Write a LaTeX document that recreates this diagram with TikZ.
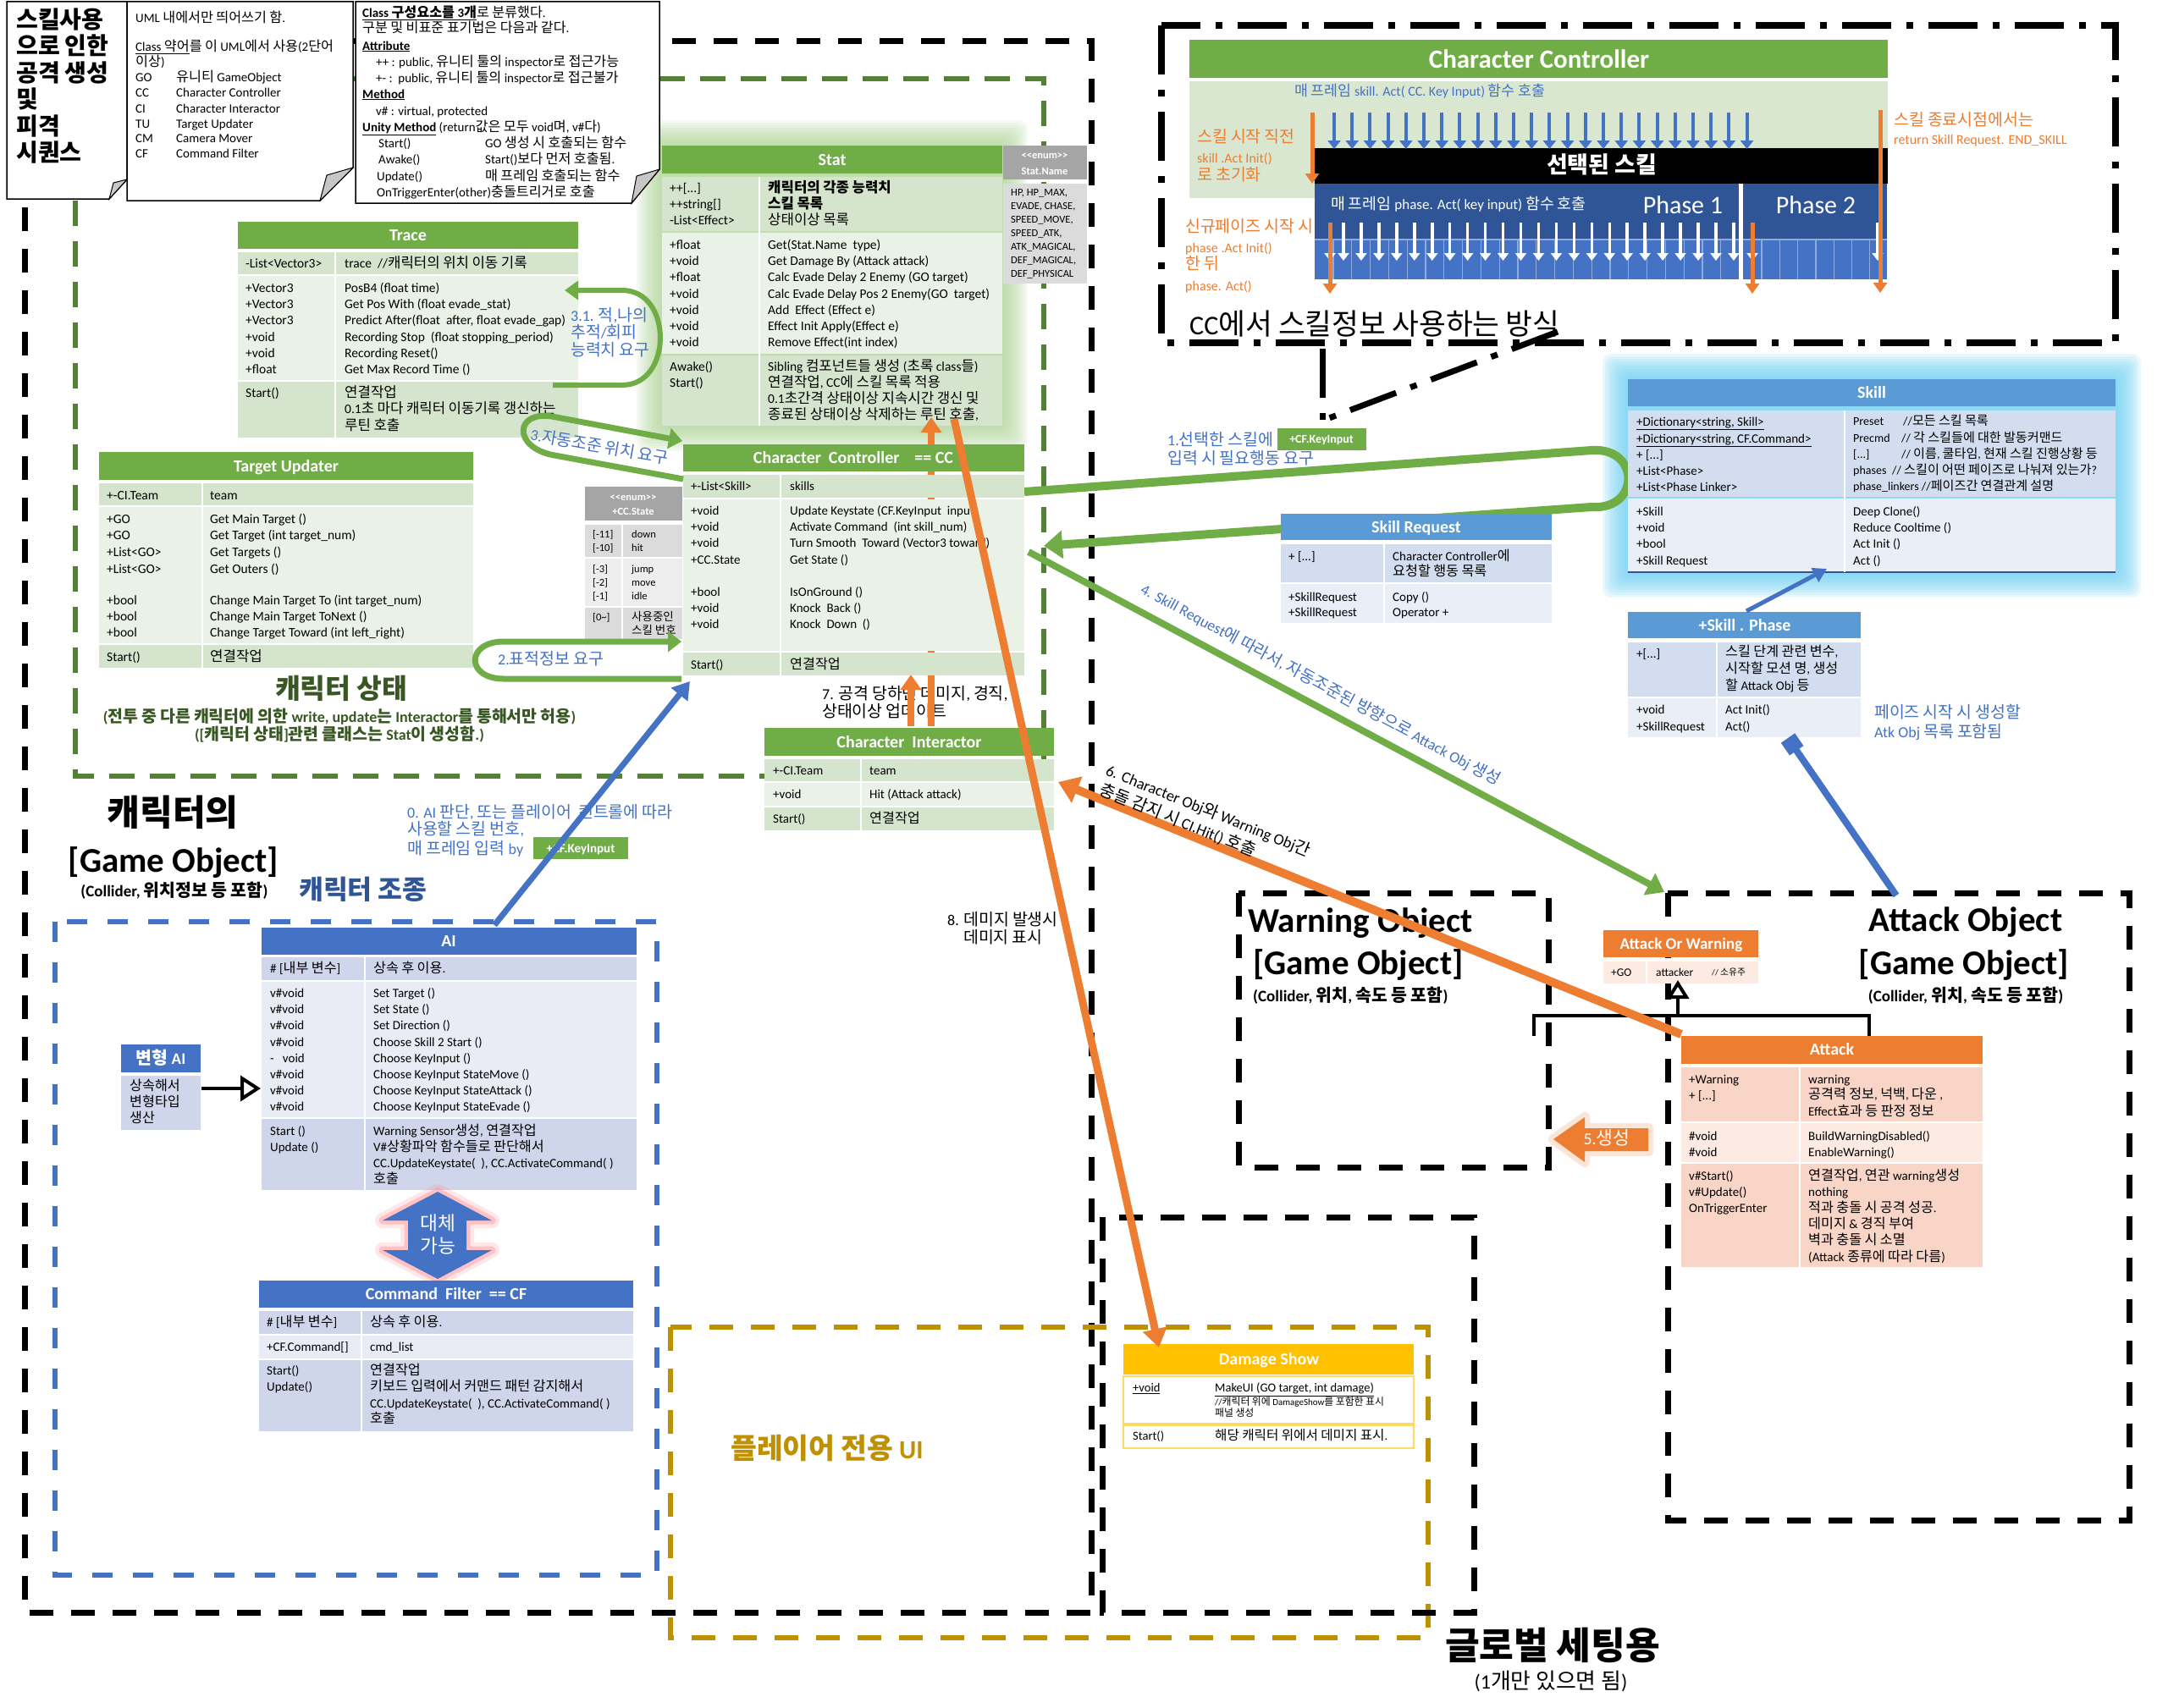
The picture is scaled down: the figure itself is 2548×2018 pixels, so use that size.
\documentclass[tikz,border=0pt]{standalone}
\usepackage{fontspec}
\setmainfont{Carlito}
\newfontfamily\krfont{Noto Sans CJK KR}[Scale=1.08]
\usetikzlibrary{arrows.meta}

% Hangul syllables switch to the Korean face on their own
\XeTeXinterchartokenstate=1
\chardef\krclass=7
\newcount\hgcode
\hgcode="AC00
\loop
  \XeTeXcharclass\hgcode=\krclass
  \ifnum\hgcode<"D7A3 \advance\hgcode by 1
\repeat
\XeTeXinterchartoks 0 \krclass = {\begingroup\krfont}
\XeTeXinterchartoks 4095 \krclass = {\begingroup\krfont}
\XeTeXinterchartoks \krclass 0 = {\endgroup}
\XeTeXinterchartoks \krclass 4095 = {\endgroup}

\definecolor{gH}{HTML}{70AD47}
\definecolor{gA}{HTML}{D5E4CD}
\definecolor{gB}{HTML}{EAF1E6}
\definecolor{bH}{HTML}{5B9BD5}
\definecolor{bA}{HTML}{D2DEEF}
\definecolor{bB}{HTML}{EAEFF7}
\definecolor{aH}{HTML}{4472C4}
\definecolor{aA}{HTML}{CFD5EA}
\definecolor{aB}{HTML}{E9EBF5}
\definecolor{enH}{HTML}{A5A5A5}
\definecolor{enA}{HTML}{DBDBDB}
\definecolor{enB}{HTML}{EDEDED}
\definecolor{orng}{HTML}{ED7D31}
\definecolor{oA}{HTML}{F8D5C6}
\definecolor{oB}{HTML}{FCEAE3}
\definecolor{ylw}{HTML}{FFC000}
\definecolor{ylwL}{HTML}{FFD966}
\definecolor{gold}{HTML}{BF9000}
\definecolor{dgreen}{HTML}{548235}
\definecolor{txtblue}{HTML}{4472C4}
\definecolor{dblue}{HTML}{2F5597}
\definecolor{stgreen}{HTML}{385723}
\definecolor{lgpanel}{HTML}{D9E7D0}
\definecolor{cellline}{HTML}{8FAADC}
\definecolor{glowg}{HTML}{A9D18E}
\definecolor{glowc}{HTML}{6FD3F5}
\definecolor{glowr}{HTML}{FF7C80}

\tikzset{
  blkdash/.style={draw=black,line width=7pt,dash pattern=on 28pt off 21pt},
  grndash/.style={draw=dgreen,line width=6pt,dash pattern=on 30pt off 18pt},
  bludash/.style={draw=aH,line width=6pt,dash pattern=on 24pt off 24pt},
  glddash/.style={draw=gold,line width=6pt,dash pattern=on 28pt off 21pt},
  dotdash/.style={draw=black,line width=8pt,dash pattern=on 58pt off 18pt on 8pt off 18pt},
  gline/.style={draw=gH},
  oline/.style={draw=orng},
  divw/.style={draw=white,line width=2.5pt},
}

\newcounter{lbl}
% one line of text: [options]{x}{y of line centre}{size}{text}
\newcommand\lb[5][]{\stepcounter{lbl}\node[anchor=base west,inner sep=0pt,font=\fontsize{#4}{#4}\selectfont,#1] (lb\arabic{lbl}) at (#2,{#3+0.34*#4}) {#5};}

\begin{document}
\begin{tikzpicture}[x=1pt,y=-1pt]
\useasboundingbox (0,0) rectangle (2548,2018);
\fill[white] (0,0) rectangle (2548,2018);

% ---------- soft glows
\foreach \g in {1,...,10}{\fill[glowg,opacity=0.11,rounded corners=10pt] ({782-3*\g},{172-3*\g}) rectangle ({1184+3*\g},{503+3*\g});}
\foreach \g in {1,...,10}{\fill[glowc,opacity=0.14,rounded corners=10pt] ({1923-3*\g},{448-3*\g}) rectangle ({2499+3*\g},{676+3*\g});}

% ---------- dashed groupings
\draw[blkdash] (29,49) rectangle (1289,1905);
\draw[grndash] (89,93) rectangle (1233,917);
\draw[bludash] (65,1089) rectangle (776,1861);
\draw[glddash] (792,1568) rectangle (1687,1935);
\draw[blkdash] (1302,1438) rectangle (1741,1905);
\draw[blkdash] (1463,1055) rectangle (1829,1379);
\draw[blkdash] (1970,1055) rectangle (2515,1796);
\draw[dotdash] (1372,30) rectangle (2499,405);

% ---------- loop from CC to Skill and back (runs behind Skill Request)
\coordinate (ccR1) at (1210,581);
\coordinate (skL1) at (1880,532);
\coordinate (skL2) at (1880,599);
\coordinate (ccR2) at (1233,645);
\draw[gline,line width=10pt,-{Triangle[length=22pt,width=32pt]}] (ccR1) -- (skL1) .. controls (1938,528) and (1938,603) .. (skL2) -- (ccR2);

% ---------- Stat
\fill[gH] (782,172) rectangle (1184,205);
\fill[gA] (782,209) rectangle (1184,273);
\fill[gB] (782,275) rectangle (1184,418);
\fill[gA] (782,420) rectangle (1184,503);
\draw[divw] (897,209) -- (897,503);
\lb[anchor=base,text=white]{983}{189}{20}{\bfseries Stat}
\lb{791}{222}{15.5}{++[...]}
\lb{791}{241}{15.5}{++string[]}
\lb{791}{260}{15.5}{-List<Effect>}
\lb{907}{222}{15.5}{\bfseries 캐릭터의 각종 능력치}
\lb{907}{241}{15.5}{\bfseries 스킬 목록}
\lb{907}{260}{15.5}{상태이상 목록}
\lb{791}{289}{15.5}{+float}
\lb{791}{308}{15.5}{+void}
\lb{791}{327}{15.5}{+float}
\lb{791}{347}{15.5}{+void}
\lb{791}{366}{15.5}{+void}
\lb{791}{385}{15.5}{+void}
\lb{791}{404}{15.5}{+void}
\lb{907}{289}{15.5}{Get(Stat.Name\ \ type)}
\lb{907}{308}{15.5}{Get Damage By (Attack attack)}
\lb{907}{327}{15.5}{Calc Evade Delay 2 Enemy (GO target)}
\lb{907}{347}{15.5}{Calc Evade Delay Pos 2 Enemy(GO\ \ target)}
\lb{907}{366}{15.5}{Add\ \ Effect (Effect e)}
\lb{907}{385}{15.5}{Effect Init Apply(Effect e)}
\lb{907}{404}{15.5}{Remove Effect(int index)}
\lb{791}{433}{15.5}{Awake()}
\lb{791}{452}{15.5}{Start()}
\lb{907}{433}{15.5}{Sibling 컴포넌트들 생성 (초록 class들)}
\lb{907}{452}{15.5}{연결작업, CC에 스킬 목록 적용}
\lb{907}{471}{15.5}{0.1초간격 상태이상 지속시간 갱신 및}
\lb{907}{490}{15.5}{종료된 상태이상 삭제하는 루틴 호출,}

% Stat.Name enum
\fill[enH] (1185,172) rectangle (1284,212);
\fill[enA] (1185,217) rectangle (1284,335);
\lb[anchor=base,text=white]{1234}{183}{12.5}{\bfseries <{}<enum>{}>}
\lb[anchor=base,text=white]{1234}{202}{12.5}{\bfseries Stat.Name}
\lb{1194}{227}{12.5}{HP, HP\_MAX,}
\lb{1194}{243}{12.5}{EVADE, CHASE,}
\lb{1194}{259}{12.5}{SPEED\_MOVE,}
\lb{1194}{275}{12.5}{SPEED\_ATK,}
\lb{1194}{291}{12.5}{ATK\_MAGICAL,}
\lb{1194}{307}{12.5}{DEF\_MAGICAL,}
\lb{1194}{323}{12.5}{DEF\_PHYSICAL}

% ---------- label 7 and its two arrows (the longer one passes behind CC)
\lb{971}{820}{18}{7. 공격 당하면 데미지, 경직,}
\lb{971}{841}{18}{상태이상 업데이트}
\coordinate (ciT1) at (1076,858);
\coordinate (ccB1) at (1076,797);
\coordinate (ciT2) at (1100,858);
\coordinate (stB1) at (1100,493);
\draw[oline,line width=8pt,-{Triangle[length=18pt,width=24pt]}] (ciT1) -- (ccB1);
\draw[oline,line width=8pt,-{Triangle[length=18pt,width=24pt]}] (ciT2) -- (stB1);

% ---------- Trace
\fill[gH] (281,262) rectangle (683,294);
\fill[gA] (281,298) rectangle (683,324);
\fill[gB] (281,326) rectangle (683,449);
\fill[gA] (281,451) rectangle (683,517);
\draw[divw] (396,298) -- (396,517);
\lb[anchor=base,text=white]{482}{278}{20}{\bfseries Trace}
\lb{290}{311}{15.5}{-List<Vector3>}
\lb{407}{311}{15.5}{trace\ \ //캐릭터의 위치 이동 기록}
\lb{290}{340}{15.5}{+Vector3}
\lb{290}{359}{15.5}{+Vector3}
\lb{290}{378}{15.5}{+Vector3}
\lb{290}{398}{15.5}{+void}
\lb{290}{417}{15.5}{+void}
\lb{290}{436}{15.5}{+float}
\lb{290}{464}{15.5}{Start()}
\lb{407}{340}{15.5}{PosB4 (float time)}
\lb{407}{359}{15.5}{Get Pos With (float evade\_stat)}
\lb{407}{378}{15.5}{Predict After(float\ \ after, float evade\_gap)}
\lb{407}{398}{15.5}{Recording Stop\ \ (float stopping\_period)}
\lb{407}{417}{15.5}{Recording Reset()}
\lb{407}{436}{15.5}{Get Max Record Time ()}
\lb{407}{464}{15.5}{연결작업}
\lb{407}{483}{15.5}{0.1초 마다 캐릭터 이동기록 갱신하는}
\lb{407}{503}{15.5}{루틴 호출}

% ---------- Target Updater
\fill[gH] (117,534) rectangle (559,567);
\fill[gA] (117,571) rectangle (559,597);
\fill[gB] (117,599) rectangle (559,760);
\fill[gA] (117,762) rectangle (559,789);
\draw[divw] (239,571) -- (239,789);
\lb[anchor=base,text=white]{338}{551}{20}{\bfseries Target Updater}
\lb{126}{585}{15.5}{+-CI.Team}
\lb{126}{613}{15.5}{+GO}
\lb{126}{632}{15.5}{+GO}
\lb{126}{652}{15.5}{+List<GO>}
\lb{126}{672}{15.5}{+List<GO>}
\lb{126}{709}{15.5}{+bool}
\lb{126}{728}{15.5}{+bool}
\lb{126}{747}{15.5}{+bool}
\lb{126}{776}{15.5}{Start()}
\lb{248}{585}{15.5}{team}
\lb{248}{613}{15.5}{Get Main Target ()}
\lb{248}{632}{15.5}{Get Target (int target\_num)}
\lb{248}{652}{15.5}{Get Targets ()}
\lb{248}{672}{15.5}{Get Outers ()}
\lb{248}{709}{15.5}{Change Main Target To (int target\_num)}
\lb{248}{728}{15.5}{Change Main Target ToNext ()}
\lb{248}{747}{15.5}{Change Target Toward (int left\_right)}
\lb{248}{776}{15.5}{연결작업}

% ---------- CC.State enum
\fill[enH] (691,575) rectangle (806,615);
\fill[enA] (691,620) rectangle (806,658);
\fill[enB] (691,660) rectangle (806,716);
\fill[enA] (691,718) rectangle (806,755);
\draw[divw] (735,620) -- (735,755);
\lb[anchor=base,text=white]{748}{587}{12.5}{\bfseries <{}<enum>{}>}
\lb[anchor=base,text=white]{748}{604}{12.5}{\bfseries +CC.State}
\lb{700}{631}{12.5}{[-11]}
\lb{700}{647}{12.5}{[-10]}
\lb{700}{672}{12.5}{[-3]}
\lb{700}{688}{12.5}{[-2]}
\lb{700}{704}{12.5}{[-1]}
\lb{700}{729}{12.5}{[0\textasciitilde]}
\lb{746}{631}{12.5}{down}
\lb{746}{647}{12.5}{hit}
\lb{746}{672}{12.5}{jump}
\lb{746}{688}{12.5}{move}
\lb{746}{704}{12.5}{idle}
\lb{746}{729}{12.5}{사용중인}
\lb{746}{745}{12.5}{스킬 번호}

% ---------- Character Controller
\fill[gH] (807,525) rectangle (1210,557);
\fill[gA] (807,561) rectangle (1210,588);
\fill[gB] (807,590) rectangle (1210,769);
\fill[gA] (807,771) rectangle (1210,798);
\draw[divw] (922,561) -- (922,798);
\lb[anchor=base,text=white]{1008}{541}{20}{\bfseries Character\ \ Controller\hspace{18pt}== CC}
\lb{816}{574}{15}{+-List<Skill>}
\lb{816}{603}{15}{+void}
\lb{816}{622}{15}{+void}
\lb{816}{641}{15}{+void}
\lb{816}{661}{15}{+CC.State}
\lb{816}{699}{15}{+bool}
\lb{816}{718}{15}{+void}
\lb{816}{737}{15}{+void}
\lb{816}{785}{15}{Start()}
\lb{933}{574}{15}{skills}
\lb{933}{603}{15}{Update Keystate (CF.KeyInput\ \ input)}
\lb{933}{622}{15}{Activate Command\ \ (int skill\_num)}
\lb{933}{641}{15}{Turn Smooth\ \ Toward (Vector3 toward)}
\lb{933}{661}{15}{Get State ()}
\lb{933}{699}{15}{IsOnGround ()}
\lb{933}{718}{15}{Knock\ \ Back ()}
\lb{933}{737}{15}{Knock\ \ Down\ \ ()}
\lb{933}{785}{15}{연결작업}

% ---------- Character Interactor
\fill[gH] (903,860) rectangle (1245,893);
\fill[gA] (903,897) rectangle (1245,923);
\fill[gB] (903,925) rectangle (1245,952);
\fill[gA] (903,954) rectangle (1245,981);
\draw[divw] (1017,897) -- (1017,981);
\lb[anchor=base,text=white]{1074}{877}{20}{\bfseries Character\ \ Interactor}
\lb{913}{910}{15}{+-CI.Team}
\lb{913}{938}{15}{+void}
\lb{913}{967}{15}{Start()}
\lb{1027}{910}{15}{team}
\lb{1027}{938}{15}{Hit (Attack attack)}
\lb{1027}{967}{15}{연결작업}

% ---------- request loops among the green classes
\coordinate (trR) at (653,455);
\coordinate (trA) at (667,343);
\draw[gline,line width=6pt,-{Triangle[length=16pt,width=22pt]}] (trR) -- (735,455) .. controls (795,455) and (795,343) .. (735,343) -- (trA);
\lb[text=txtblue]{674}{373}{18}{3.1. 적,나의}
\lb[text=txtblue]{674}{393}{18}{추적/회피}
\lb[text=txtblue]{674}{414}{18}{능력치 요구}

\coordinate (ccL3) at (805,802);
\coordinate (ccL2) at (805,758);
\draw[gline,line width=7pt,-{Triangle[length=16pt,width=24pt]}] (ccL3) -- (595,802) .. controls (550,802) and (550,758) .. (595,758) -- (ccL2);
\lb[text=txtblue]{588}{779}{18}{2.표적정보 요구}

\coordinate (ccL1) at (807,566);
\coordinate (ccH1) at (806,521);
\draw[gline,line width=7pt,-{Triangle[length=16pt,width=24pt]}] (ccL1) -- (655,538) .. controls (605,529) and (608,485) .. (652,492) -- (ccH1);
\lb[text=txtblue,anchor=base,rotate=-10]{707}{528}{18}{3.자동조준 위치 요구}

% ---------- state caption
\lb[anchor=base,text=stgreen]{403}{815}{30}{\bfseries 캐릭터 상태}
\lb[anchor=base,text=stgreen]{401}{847}{18}{\bfseries (전투 중 다른 캐릭터에 의한 write, update는 Interactor를 통해서만 허용)}
\lb[anchor=base,text=stgreen]{401}{868}{18}{\bfseries ([캐릭터 상태]관련 클래스는 Stat이 생성함.)}

% ---------- character object caption
\lb[anchor=base]{204}{962}{39}{\bfseries 캐릭터의}
\lb[anchor=base]{205}{1017}{41}{\bfseries [Game Object]}
\lb[anchor=base]{206}{1053}{19}{\bfseries (Collider, 위치정보 등 포함)}
\lb[text=dblue]{353}{1053}{29}{\bfseries 캐릭터 조종}
\lb[text=txtblue]{481}{960}{18}{0. AI 판단, 또는 플레이어\ \ 컨트롤에 따라}
\lb[text=txtblue]{481}{980}{18}{사용할 스킬 번호,}
\lb[text=txtblue]{481}{1003}{18}{매 프레임 입력 by}
\fill[gH] (630,989) rectangle (742,1015);
\lb[anchor=base,text=white]{686}{1002}{15}{\bfseries +CF.KeyInput}

% ---------- AI
\fill[aH] (309,1096) rectangle (752,1128);
\fill[aA] (309,1131) rectangle (752,1158);
\fill[aB] (309,1160) rectangle (752,1320);
\fill[aA] (309,1322) rectangle (752,1406);
\draw[divw] (431,1131) -- (431,1406);
\lb[anchor=base,text=white]{530}{1112}{20}{\bfseries AI}
\lb{319}{1144}{15}{\# [내부 변수]}
\lb{319}{1173}{15}{v\#void}
\lb{319}{1192}{15}{v\#void}
\lb{319}{1211}{15}{v\#void}
\lb{319}{1231}{15}{v\#void}
\lb{319}{1250}{15}{-\ \ \ void}
\lb{319}{1269}{15}{v\#void}
\lb{319}{1288}{15}{v\#void}
\lb{319}{1307}{15}{v\#void}
\lb{319}{1336}{15}{Start ()}
\lb{319}{1355}{15}{Update ()}
\lb{441}{1144}{15}{상속 후 이용.}
\lb{441}{1173}{15}{Set Target ()}
\lb{441}{1192}{15}{Set State ()}
\lb{441}{1211}{15}{Set Direction ()}
\lb{441}{1231}{15}{Choose Skill 2 Start ()}
\lb{441}{1250}{15}{Choose KeyInput ()}
\lb{441}{1269}{15}{Choose KeyInput StateMove ()}
\lb{441}{1288}{15}{Choose KeyInput StateAttack ()}
\lb{441}{1307}{15}{Choose KeyInput StateEvade ()}
\lb{441}{1336}{15}{Warning Sensor생성, 연결작업}
\lb{441}{1355}{15}{V\#상황파악 함수들로 판단해서}
\lb{441}{1374}{15}{CC.UpdateKeystate(\ \ ), CC.ActivateCommand( )}
\lb{441}{1393}{15}{호출}

% variant AI
\fill[aH] (143,1234) rectangle (237,1267);
\fill[aA] (143,1271) rectangle (237,1335);
\lb[anchor=base,text=white]{190}{1251}{19}{\bfseries 변형 AI}
\lb{153}{1283}{15}{상속해서}
\lb{153}{1302}{15}{변형타입}
\lb{153}{1321}{15}{생산}
\coordinate (vaR) at (238,1286);
\coordinate (aiL) at (308,1286);
\draw[line width=4pt,-{Triangle[open,length=24pt,width=30pt]}] (vaR) -- (aiL);

% exchangeable double arrow
\path[draw=glowr,line width=18pt,opacity=0.18,line join=round] (517,1408) -- (581,1442) -- (551,1442) -- (551,1477) -- (581,1477) -- (517,1511) -- (452,1477) -- (482,1477) -- (482,1442) -- (452,1442) -- cycle;
\path[draw=glowr,line width=9pt,opacity=0.35,line join=round] (517,1408) -- (581,1442) -- (551,1442) -- (551,1477) -- (581,1477) -- (517,1511) -- (452,1477) -- (482,1477) -- (482,1442) -- (452,1442) -- cycle;
\fill[aH] (517,1408) -- (581,1442) -- (551,1442) -- (551,1477) -- (581,1477) -- (517,1511) -- (452,1477) -- (482,1477) -- (482,1442) -- (452,1442) -- cycle;
\lb[anchor=base,text=white]{517}{1446}{21}{대체}
\lb[anchor=base,text=white]{517}{1473}{21}{가능}

% ---------- Command Filter
\fill[aH] (306,1513) rectangle (748,1545);
\fill[aA] (306,1549) rectangle (748,1576);
\fill[aB] (306,1578) rectangle (748,1605);
\fill[aA] (306,1607) rectangle (748,1691);
\draw[divw] (427,1549) -- (427,1691);
\lb[anchor=base,text=white]{527}{1529}{20}{\bfseries Command\ \ Filter\ \ == CF}
\lb{315}{1562}{15}{\# [내부 변수]}
\lb{315}{1591}{15}{+CF.Command[]}
\lb{315}{1619}{15}{Start()}
\lb{315}{1638}{15}{Update()}
\lb{437}{1562}{15}{상속 후 이용.}
\lb{437}{1591}{15}{cmd\_list}
\lb{437}{1619}{15}{연결작업}
\lb{437}{1638}{15}{키보드 입력에서 커맨드 패턴 감지해서}
\lb{437}{1658}{15}{CC.UpdateKeystate(\ \ ), CC.ActivateCommand( )}
\lb{437}{1676}{15}{호출}

% AI drives CC
\coordinate (aiT) at (584,1093);
\coordinate (ccBL) at (815,805);
\draw[aH,line width=7pt,-{Triangle[length=20pt,width=24pt]}] (aiT) -- (ccBL);

% ---------- Skill
\fill[bH] (1923,448) rectangle (2499,480);
\fill[bA] (1923,485) rectangle (2499,587);
\fill[bB] (1923,589) rectangle (2499,676);
\draw[dblue,line width=2pt] (1923,676) -- (2499,676);
\draw[divw] (2179,485) -- (2179,676);
\lb[anchor=base,text=white]{2211}{464}{20}{\bfseries Skill}
\lb{1933}{498}{15}{\underline{+Dictionary<string, Skill>}}
\lb{1933}{518}{15}{\underline{+Dictionary<string, CF.Command>}}
\lb{1933}{537}{15}{+ [...]}
\lb{1933}{556}{15}{+List<Phase>}
\lb{1933}{575}{15}{+List<Phase Linker>}
\lb{1933}{604}{15}{+Skill}
\lb{1933}{623}{15}{+void}
\lb{1933}{642}{15}{+bool}
\lb{1933}{662}{15}{+Skill Request}
\lb{2189}{498}{14}{Preset}
\lb{2248}{498}{14}{//모든 스킬 목록}
\lb{2189}{518}{14}{Precmd}
\lb{2246}{518}{14}{// 각 스킬들에 대한 발동커맨드}
\lb{2189}{537}{14}{[...]}
\lb{2246}{537}{14}{// 이름, 쿨타임, 현재 스킬 진행상황 등}
\lb{2189}{556}{14}{phases}
\lb{2235}{556}{14}{// 스킬이 어떤 페이즈로 나눠져 있는가?}
\lb{2189}{575}{14}{phase\_linkers //페이즈간 연결관계 설명}
\lb{2189}{604}{15}{Deep Clone()}
\lb{2189}{623}{15}{Reduce Cooltime ()}
\lb{2189}{642}{15}{Act Init ()}
\lb{2189}{662}{15}{Act ()}

% ---------- Skill Request
\fill[bH] (1513,607) rectangle (1833,638);
\fill[bA] (1513,643) rectangle (1833,688);
\fill[bB] (1513,690) rectangle (1833,736);
\draw[divw] (1635,643) -- (1635,736);
\lb[anchor=base,text=white]{1673}{623}{20}{\bfseries Skill Request}
\lb{1522}{657}{15}{+ [...]}
\lb{1522}{705}{15}{+SkillRequest}
\lb{1522}{723}{15}{+SkillRequest}
\lb{1645}{657}{15}{Character Controller에}
\lb{1645}{675}{15}{요청할 행동 목록}
\lb{1645}{705}{15}{Copy ()}
\lb{1645}{723}{15}{Operator +}

% ---------- Skill . Phase
\fill[bH] (1923,723) rectangle (2198,754);
\fill[bA] (1923,759) rectangle (2198,823);
\fill[bB] (1923,825) rectangle (2198,871);
\draw[divw] (2028,759) -- (2028,871);
\lb[anchor=base,text=white]{2061}{739}{20}{\bfseries +Skill . Phase}
\lb{1933}{772}{15}{+[...]}
\lb{1933}{838}{15}{+void}
\lb{1933}{858}{15}{+SkillRequest}
\lb{2038}{770}{15}{스킬 단계 관련 변수,}
\lb{2038}{790}{15}{시작할 모션 명, 생성}
\lb{2038}{810}{15}{할 Attack Obj 등}
\lb{2038}{838}{15}{Act Init()}
\lb{2038}{858}{15}{Act()}
\lb[text=txtblue]{2214}{842}{18}{페이즈 시작 시 생성할}
\lb[text=txtblue]{2214}{865}{18}{Atk Obj 목록 포함됨}
\coordinate (phT) at (2063,722);
\coordinate (skB) at (2158,672);
\draw[aH,line width=5pt,-{Triangle[length=16pt,width=18pt]}] (phT) -- (skB);
\coordinate (phB) at (2112,872);
\coordinate (aoT) at (2240,1058);
\draw[aH,line width=8pt,{Square[length=18pt,width=20pt]}-] (phB) -- (aoT);

% ---------- how CC drives the selected skill
\fill[gH] (1405,47) rectangle (2230,92);
\lb[anchor=base,text=white]{1818}{70}{31}{\bfseries Character Controller}
\fill[lgpanel] (1405,96) rectangle (2230,175);
\fill[lgpanel] (1405,175) rectangle (1553,234);
\fill[black] (1553,175) rectangle (2230,217);
\lb[anchor=base,text=white]{1892}{196}{25}{\bfseries 선택된 스킬}
\fill[dblue] (1553,217) rectangle (2054,283);
\fill[dblue] (2059,217) rectangle (2229,283);
\fill[aH] (1553,283) rectangle (2054,330);
\fill[aH] (2059,283) rectangle (2229,330);
\foreach \i in {0,...,21}{\draw[cellline,line width=1.3pt] ({1575+21.8*\i},283) -- ({1575+21.8*\i},330);}
\foreach \i in {0,...,6}{\draw[cellline,line width=1.3pt] ({2081+21.3*\i},283) -- ({2081+21.3*\i},330);}
\draw[cellline,line width=1.3pt] (1553,283) -- (2054,283) (2059,283) -- (2229,283);
\lb[text=txtblue]{1529}{108}{16}{매 프레임 skill. Act( CC. Key Input) 함수 호출}
\foreach \i in {0,...,23}{\draw[aH,line width=4pt,-{Triangle[length=10pt,width=15pt]}] ({1576+21.2*\i},133) -- ({1576+21.2*\i},176);}
\lb[text=white]{1572}{242}{17}{매 프레임 phase. Act( key input) 함수 호출}
\lb[anchor=base,text=white]{1988}{242}{30}{Phase 1}
\lb[anchor=base,text=white]{2145}{242}{30}{Phase 2}
\foreach \i in {0,...,22}{\draw[white,line width=3.5pt,-{Triangle[length=9pt,width=13pt]}] ({1587+20.95*\i},263) -- ({1587+20.95*\i},308);}
\foreach \xx in {1571,2070,2218}{\draw[white,line width=3.5pt,-{Triangle[length=9pt,width=13pt]}] (\xx,263) -- (\xx,308);}
\draw[oline,line width=5pt,-{Triangle[length=12pt,width=16pt]}] (1550,133) -- (1550,217);
\draw[oline,line width=5pt,-{Triangle[length=12pt,width=16pt]}] (2221,130) -- (2221,346);
\draw[oline,line width=5pt,-{Triangle[length=12pt,width=16pt]}] (1571,263) -- (1571,347);
\draw[oline,line width=5pt,-{Triangle[length=12pt,width=16pt]}] (2070,263) -- (2070,347);
\lb[text=orng]{1414}{162}{18}{스킬 시작 직전}
\lb[text=orng]{1414}{187}{16}{skill .Act Init()}
\lb[text=orng]{1414}{207}{18}{로 초기화}
\lb[text=orng]{2237}{142}{18}{스킬 종료시점에서는}
\lb[text=orng]{2237}{165}{16}{return Skill Request. END\_SKILL}
\lb[text=orng]{1400}{268}{18}{신규페이즈 시작 시}
\lb[text=orng]{1400}{293}{16}{phase .Act Init()}
\lb[text=orng]{1400}{312}{18}{한 뒤}
\lb[text=orng]{1400}{338}{16}{phase. Act()}
\lb{1405}{385}{32}{CC에서 스킬정보 사용하는 방식}

% pointer from the skill panel to the key-input request
\coordinate (ddA) at (1840,392);
\coordinate (ddB) at (1562,497);
\coordinate (ddC) at (1562,412);
\draw[dotdash,line width=7pt] (ddA) -- (ddB);
\draw[dotdash,line width=7pt] (ddC) -- (ddB);
\lb[text=txtblue]{1379}{520}{18}{1.선택한 스킬에}
\fill[gH] (1509,506) rectangle (1614,532);
\lb[anchor=base,text=white]{1561}{519}{14}{\bfseries +CF.KeyInput}
\lb[text=txtblue]{1379}{542}{18}{입력 시 필요행동 요구}

% ---------- Warning / Attack objects
\lb{1474}{1088}{41}{\bfseries Warning Object}
\lb{1480}{1138}{41}{\bfseries [Game Object]}
\lb{1480}{1177}{19}{\bfseries (Collider, 위치, 속도 등 포함)}
\lb[anchor=base]{2322}{1087}{41}{\bfseries Attack Object}
\lb[anchor=base]{2320}{1138}{41}{\bfseries [Game Object]}
\lb[anchor=base]{2322}{1177}{19}{\bfseries (Collider, 위치, 속도 등 포함)}

\fill[orng] (1894,1099) rectangle (2077,1131);
\fill[oB] (1894,1136) rectangle (2077,1162);
\draw[divw] (1945,1136) -- (1945,1162);
\lb[anchor=base,text=white]{1986}{1115}{19}{\bfseries Attack Or Warning}
\lb{1903}{1149}{13.5}{+GO}
\lb{1956}{1149}{13.5}{attacker}
\lb{2022}{1149}{10}{// 소유주}

\coordinate (awB) at (1982,1158);
\coordinate (inhJ) at (1982,1200);
\draw[line width=4pt] (1812,1224) -- (1812,1200) -- (2208,1200) -- (2208,1224);
\draw[line width=4pt,-{Triangle[open,length=22pt,width=26pt]}] (inhJ) -- (awB);

\fill[orng] (1986,1224) rectangle (2342,1257);
\fill[oA] (1986,1261) rectangle (2342,1325);
\fill[oB] (1986,1327) rectangle (2342,1373);
\fill[oA] (1986,1375) rectangle (2342,1497);
\draw[divw] (2126,1261) -- (2126,1497);
\lb[anchor=base,text=white]{2164}{1240}{20}{\bfseries Attack}
\lb{1995}{1275}{15}{+Warning}
\lb{1995}{1294}{15}{+ [...]}
\lb{1995}{1342}{15}{\#void}
\lb{1995}{1361}{15}{\#void}
\lb{1995}{1389}{15}{v\#Start()}
\lb{1995}{1408}{15}{v\#Update()}
\lb{1995}{1427}{15}{OnTriggerEnter}
\lb{2136}{1275}{15}{warning}
\lb{2136}{1293}{15}{공격력 정보, 넉백, 다운 ,}
\lb{2136}{1313}{15}{Effect효과 등 판정 정보}
\lb{2136}{1342}{15}{BuildWarningDisabled()}
\lb{2136}{1361}{15}{EnableWarning()}
\lb{2136}{1389}{15}{연결작업, 연관 warning생성}
\lb{2136}{1408}{15}{nothing}
\lb{2136}{1427}{15}{적과 충돌 시 공격 성공.}
\lb{2136}{1446}{15}{데미지 \& 경직 부여}
\lb{2136}{1465}{15}{벽과 충돌 시 소멸}
\lb{2136}{1485}{15}{(Attack 종류에 따라 다름)}

% creation arrow
\path[draw=orng,line width=12pt,opacity=0.2,line join=round] (1835,1346) -- (1872,1320) -- (1872,1333) -- (1947,1333) -- (1947,1360) -- (1872,1360) -- (1872,1373) -- cycle;
\fill[orng] (1835,1346) -- (1872,1320) -- (1872,1333) -- (1947,1333) -- (1947,1360) -- (1872,1360) -- (1872,1373) -- cycle;
\lb[anchor=base,text=white]{1898}{1346}{20}{5.생성}

% ---------- Damage Show
\fill[ylw] (1327,1588) rectangle (1670,1624);
\draw[ylwL,line width=2pt] (1327,1626) rectangle (1670,1682);
\draw[ylwL,line width=2pt] (1327,1684) rectangle (1670,1711);
\lb[anchor=base,text=white]{1499}{1606}{20}{\bfseries Damage Show}
\lb{1338}{1640}{14.5}{\underline{+void}}
\lb{1435}{1640}{14.5}{\underline{MakeUI (GO target, int damage)}}
\lb{1435}{1657}{11}{//캐릭터 위에 DamageShow를 포함한 표시}
\lb{1435}{1670}{11}{패널 생성}
\lb{1338}{1697}{14.5}{Start()}
\lb{1435}{1697}{14.5}{해당 캐릭터 위에서 데미지 표시.}

\lb[text=gold]{863}{1713}{31}{\bfseries 플레이어 전용 UI}
\lb[anchor=base]{1834}{1947}{41}{\bfseries 글로벌 세팅용}
\lb[anchor=base]{1832}{1987}{24}{(1개만 있으면 됨)}

% ---------- flows across the groups
\coordinate (ccR4) at (1215,652);
\coordinate (aoT2) at (1966,1054);
\draw[gline,line width=8pt,-{Triangle[length=20pt,width=28pt]}] (ccR4) -- (aoT2);
\lb[text=txtblue,anchor=base,rotate=-28.4]{1557}{808}{18}{4. Skill Request에 따라서, 자동조준된 방향으로 Attack Obj 생성}

\coordinate (atkTL) at (1986,1222);
\coordinate (ciR) at (1250,924);
\draw[oline,line width=10pt,-{Triangle[length=24pt,width=32pt]}] (atkTL) -- (ciR);
\lb[rotate=-22]{1305}{909}{18.5}{6. Character Obj와 Warning Obj간}
\lb[rotate=-22]{1297}{932}{18.5}{충돌 감지 시 CI.Hit() 호출}

\coordinate (stB2) at (1127,495);
\coordinate (dsT) at (1369,1592);
\draw[oline,line width=9pt,-{Triangle[length=22pt,width=28pt]}] (stB2) -- (dsT);
\lb{1119}{1087}{18}{8. 데미지 발생시}
\lb{1138}{1108}{18}{데미지 표시}

% ---------- notes
\filldraw[fill=white,draw=black,line width=1.5pt] (8,2) -- (150,2) -- (150,212) -- (129,235) -- (8,235) -- cycle;
\filldraw[fill=black!22,draw=black,line width=1pt] (150,212) -- (129,235) -- (134,216) -- cycle;
\lb{19}{25}{26}{\bfseries 스킬사용}
\lb{19}{56}{26}{\bfseries 으로 인한}
\lb{19}{88}{26}{\bfseries 공격 생성}
\lb{19}{119}{26}{\bfseries 및}
\lb{19}{151}{26}{\bfseries 피격}
\lb{19}{182}{26}{\bfseries 시퀀스}

\filldraw[fill=white,draw=black,line width=1.5pt] (150,2) -- (417,2) -- (417,198) -- (378,237) -- (150,237) -- cycle;
\filldraw[fill=black!22,draw=black,line width=1pt] (417,198) -- (378,237) -- (386,207) -- cycle;
\lb{160}{21}{15}{UML 내에서만 띄어쓰기 함.}
\lb{160}{55}{15}{\underline{Class 약어}를 이 UML에서 사용(2단어}
\lb{160}{73}{15}{이상)}
\lb{160}{91}{15}{GO}
\lb{160}{109}{15}{CC}
\lb{160}{128}{15}{CI}
\lb{160}{146}{15}{TU}
\lb{160}{163}{15}{CM}
\lb{160}{181}{15}{CF}
\lb{208}{91}{15}{유니티 GameObject}
\lb{208}{109}{15}{Character Controller}
\lb{208}{128}{15}{Character Interactor}
\lb{208}{146}{15}{Target Updater}
\lb{208}{163}{15}{Camera Mover}
\lb{208}{181}{15}{Command Filter}

\filldraw[fill=white,draw=black,line width=1.5pt] (420,2) -- (779,2) -- (779,200) -- (746,240) -- (420,240) -- cycle;
\filldraw[fill=black!22,draw=black,line width=1pt] (779,200) -- (746,240) -- (752,208) -- cycle;
\lb{428}{15}{15}{\underline{\bfseries Class 구성요소를 3개}로 분류했다.}
\lb{428}{33}{15}{구분 및 비표준 표기법은 다음과 같다.}
\lb{428}{54}{15}{\underline{\bfseries Attribute}}
\lb{444}{73}{15}{++ : public, 유니티 툴의 inspector로 접근가능}
\lb{444}{92}{15}{+- :\ \ public, 유니티 툴의 inspector로 접근불가}
\lb{428}{111}{15}{\underline{\bfseries Method}}
\lb{444}{131}{15}{v\# : virtual, protected}
\lb{428}{150}{15}{\underline{\bfseries Unity Method} (return값은 모두 void며, v\#다)}
\lb{447}{169}{15}{Start()}
\lb{447}{188}{15}{Awake()}
\lb{445}{208}{15}{Update()}
\lb{445}{227}{15}{OnTriggerEnter(other)충돌트리거로 호출}
\lb{573}{169}{15}{GO 생성 시 호출되는 함수}
\lb{573}{188}{15}{Start()보다 먼저 호출됨.}
\lb{573}{208}{15}{매 프레임 호출되는 함수}
\end{tikzpicture}
\end{document}
